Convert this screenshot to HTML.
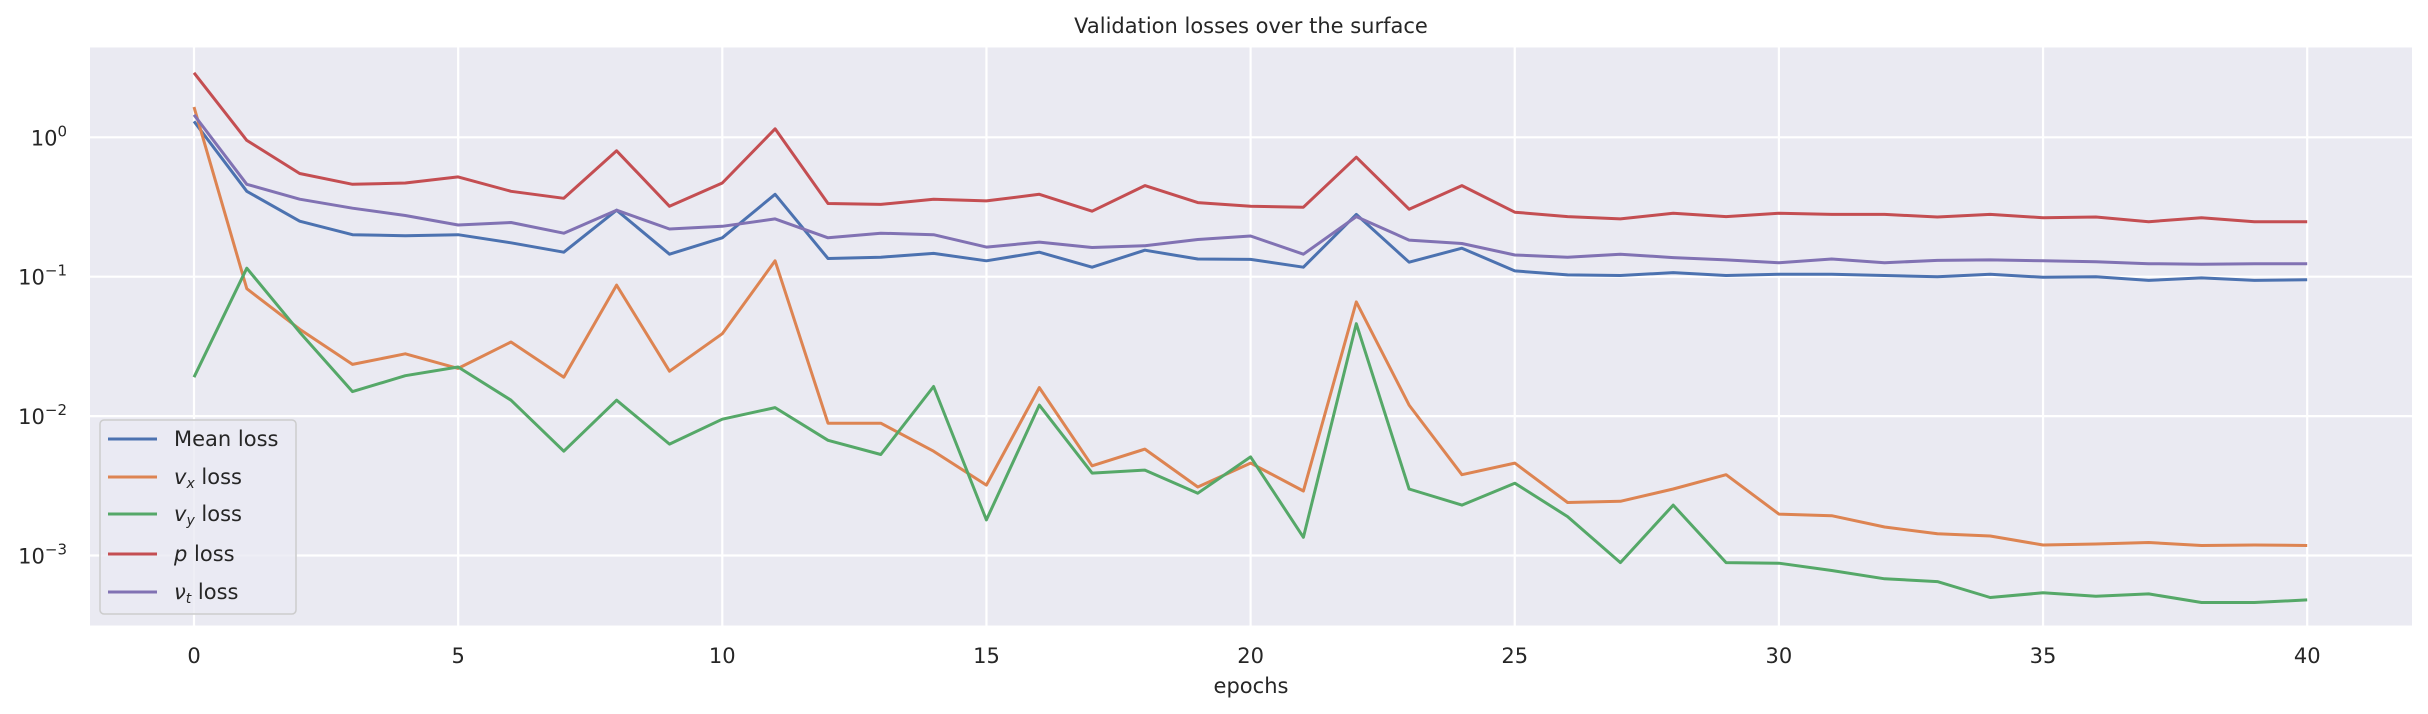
<!DOCTYPE html>
<html><head><meta charset="utf-8"><style>
body{margin:0;background:#fff;}
svg{display:block;font-family:"DejaVu Sans","Liberation Sans",sans-serif;}
</style></head><body>
<svg id="chart" width="2428" height="714" xmlns="http://www.w3.org/2000/svg">
<rect x="90" y="47.5" width="2322" height="578" fill="#eaeaf2"/>
<g id="grid"></g>
<g id="series"></g>
<g id="ticks"></g>
<text x="1251" y="33" font-size="21" text-anchor="middle" fill="#262626">Validation losses over the surface</text>
<text x="1251" y="693" font-size="21" text-anchor="middle" fill="#262626">epochs</text>
<g id="legend">
<rect x="100" y="420" width="196" height="194" rx="4" fill="#eaeaf2" fill-opacity="0.8" stroke="#cccccc" stroke-width="1.5"/>
</g>
</svg>
<script>
const epochs = Array.from({length:41},(_,i)=>i);
const meanLoss = [1.3,0.41,0.25,0.2,0.197,0.2,0.175,0.15,0.3,0.145,0.19,0.39,0.135,0.138,0.147,0.13,0.15,0.117,0.155,0.134,0.133,0.117,0.28,0.127,0.16,0.11,0.103,0.102,0.107,0.102,0.104,0.104,0.102,0.1,0.104,0.099,0.1,0.094,0.098,0.094,0.095];
const vxLoss = [1.65,0.082,0.042,0.0235,0.028,0.022,0.034,0.019,0.087,0.021,0.039,0.13,0.0089,0.0089,0.0056,0.0032,0.016,0.0044,0.0058,0.0031,0.0046,0.0029,0.066,0.012,0.0038,0.0046,0.0024,0.00245,0.003,0.0038,0.00198,0.00193,0.0016,0.00143,0.00138,0.00119,0.00121,0.00124,0.00118,0.00119,0.00118];
const vyLoss = [0.019,0.115,0.04,0.015,0.0195,0.0225,0.013,0.0056,0.013,0.0063,0.0095,0.0115,0.0067,0.0053,0.0163,0.0018,0.012,0.0039,0.0041,0.0028,0.0051,0.00135,0.046,0.003,0.0023,0.0033,0.0019,0.00089,0.0023,0.00089,0.00088,0.00078,0.00068,0.00065,0.0005,0.00054,0.00051,0.00053,0.00046,0.00046,0.00048];
const pLoss = [2.9,0.95,0.55,0.46,0.47,0.52,0.41,0.365,0.8,0.32,0.47,1.15,0.335,0.33,0.36,0.35,0.39,0.295,0.45,0.34,0.32,0.315,0.72,0.305,0.45,0.29,0.27,0.26,0.285,0.27,0.285,0.28,0.28,0.268,0.28,0.265,0.268,0.248,0.265,0.248,0.248];
const ntLoss = [1.45,0.46,0.36,0.31,0.275,0.235,0.245,0.205,0.3,0.22,0.23,0.26,0.19,0.205,0.2,0.163,0.177,0.162,0.167,0.185,0.196,0.145,0.27,0.183,0.173,0.143,0.138,0.145,0.137,0.132,0.126,0.134,0.126,0.131,0.132,0.13,0.128,0.124,0.123,0.124,0.124];
const xTicks = [0,5,10,15,20,25,30,35,40];
const yTickExps = [0,-1,-2,-3];
const legendLabels = ["Mean loss","vx","vy","p","nt"];

const NS="http://www.w3.org/2000/svg";
const X0=194, DX=52.83, Y0=137.3, DEC=139.4;
const xs=e=>X0+e*DX;
const ys=v=>Y0-DEC*Math.log10(v);
function mk(tag,attrs,parent){const el=document.createElementNS(NS,tag);for(const k in attrs)el.setAttribute(k,attrs[k]);parent.appendChild(el);return el;}
const grid=document.getElementById('grid'), ticks=document.getElementById('ticks'), series=document.getElementById('series'), legend=document.getElementById('legend');
xTicks.forEach(t=>{
  const l=mk('line',{x1:xs(t),x2:xs(t),y1:47.5,y2:625.5,stroke:'#fff','stroke-width':2.2},grid);
  
  
  const tx=mk('text',{x:xs(t),y:663,'font-size':21,'text-anchor':'middle',fill:'#262626'},ticks);
  tx.textContent=t;
  
  
});
yTickExps.forEach(e=>{
  const y=ys(Math.pow(10,e));
  const l=mk('line',{x1:90,x2:2412,y1:y,y2:y,stroke:'#fff','stroke-width':2.2},grid);
  
  
  const tx=mk('text',{x:67,y:y+8,'font-size':21,'text-anchor':'end',fill:'#262626'},ticks);
  tx.innerHTML='10<tspan font-size="15" dy="-9">'+(e===0?'0':'\u2212'+(-e))+'</tspan>';
  
  
});
const all=[[meanLoss,'#4c72b0','mean-loss-line'],[vxLoss,'#dd8452','vx-loss-line'],[vyLoss,'#55a868','vy-loss-line'],[pLoss,'#c44e52','p-loss-line'],[ntLoss,'#8172b3','nut-loss-line']];
all.forEach(([d,c,n])=>{
  const pts=d.map((v,i)=>xs(epochs[i]).toFixed(1)+','+ys(v).toFixed(1)).join(' ');
  const pl=mk('polyline',{points:pts,fill:'none',stroke:c,'stroke-width':3,'stroke-linejoin':'round'},series);
  
  
});
const ly=[439,477,514,554,592];
all.forEach(([d,c,n],i)=>{
  const l=mk('line',{x1:108,x2:157,y1:ly[i],y2:ly[i],stroke:c,'stroke-width':3},legend);
  
  
  const t=mk('text',{x:174,y:ly[i]+7,'font-size':21,fill:'#262626'},legend);
  const lab=legendLabels[i];
  if(lab==='vx') t.innerHTML='<tspan font-style="italic">v</tspan><tspan font-style="italic" font-size="14" dy="4">x</tspan><tspan dy="-4"> loss</tspan>';
  else if(lab==='vy') t.innerHTML='<tspan font-style="italic">v</tspan><tspan font-style="italic" font-size="14" dy="4">y</tspan><tspan dy="-4"> loss</tspan>';
  else if(lab==='p') t.innerHTML='<tspan font-style="italic">p</tspan> loss';
  else if(lab==='nt') t.innerHTML='<tspan font-style="italic">\u03bd</tspan><tspan font-style="italic" font-size="14" dy="4">t</tspan><tspan dy="-4"> loss</tspan>';
  else t.textContent=lab;
  
  
});
</script>
</body></html>
